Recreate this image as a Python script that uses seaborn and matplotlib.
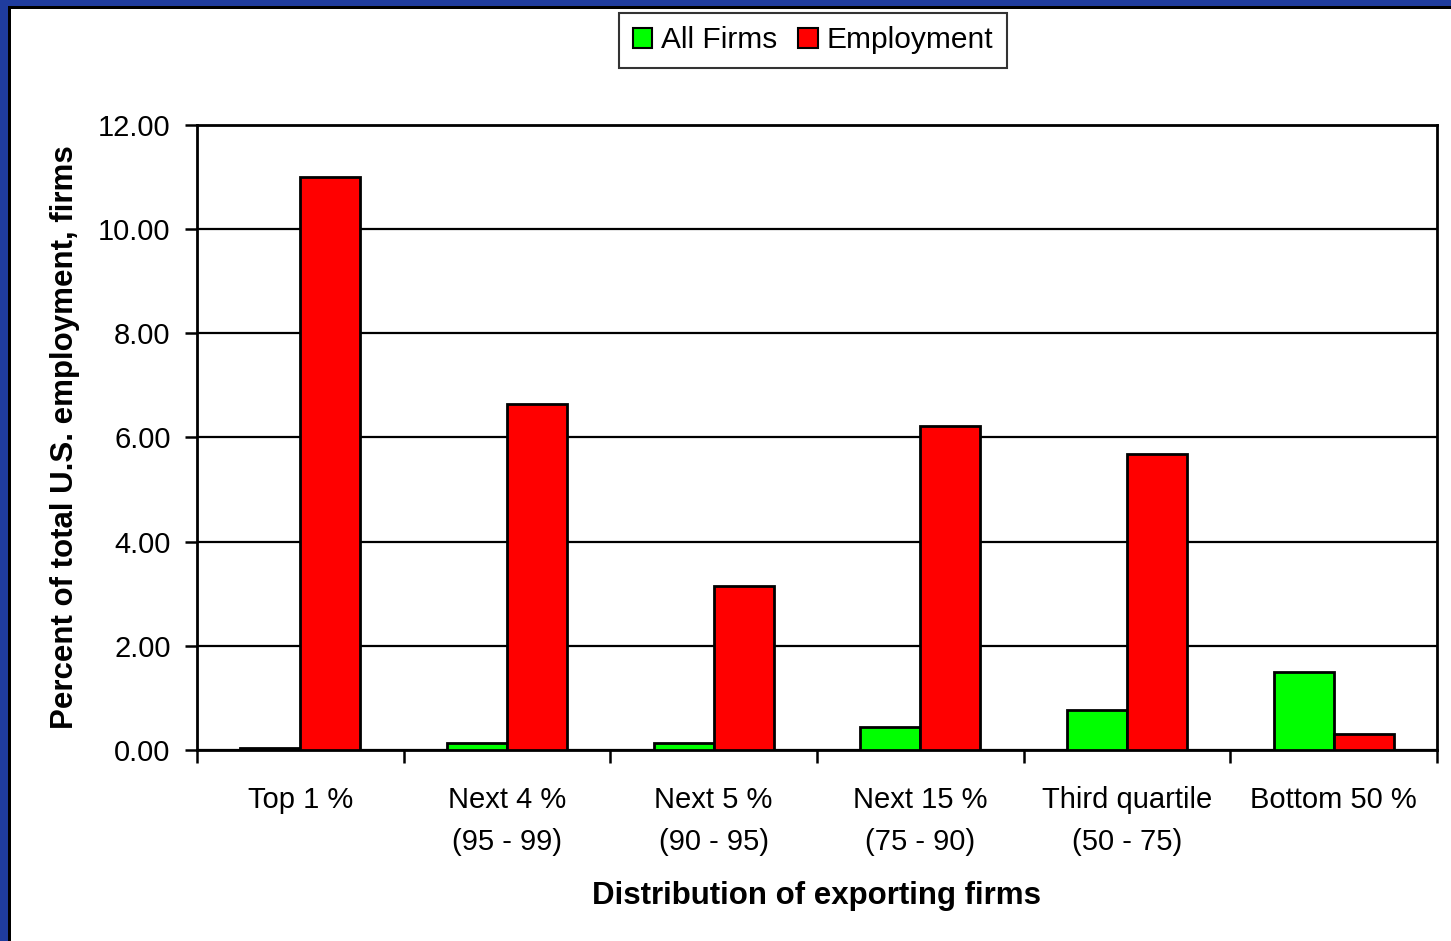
import matplotlib
matplotlib.use("Agg")
import matplotlib.pyplot as plt
import matplotlib.patches as mpatches
import seaborn as sns
import pandas as pd

categories = ["Top 1 %\n ", "Next 4 %\n(95 - 99)", "Next 5 %\n(90 - 95)",
              "Next 15 %\n(75 - 90)", "Third quartile\n(50 - 75)", "Bottom 50 %\n "]
all_firms = [0.04, 0.14, 0.14, 0.45, 0.77, 1.50]
employment = [11.00, 6.64, 3.15, 6.22, 5.68, 0.31]
series = ["All Firms", "Employment"]
colors = ["#00FF00", "#FF0000"]
yticks = [0, 2, 4, 6, 8, 10, 12]

df = pd.DataFrame({
    "category": categories * 2,
    "series": [series[0]] * len(categories) + [series[1]] * len(categories),
    "value": all_firms + employment,
})

sns.set_theme(style="ticks")
plt.rcParams["font.family"] = ["Liberation Sans", "DejaVu Sans"]
plt.rcParams.update({"text.color": "black", "axes.labelcolor": "black",
                     "xtick.color": "black", "ytick.color": "black",
                     "xtick.bottom": True, "ytick.left": True})

fig = plt.figure(figsize=(14.51, 9.41), dpi=100)
ax = fig.add_axes([0.1358, 0.203, 0.9903 - 0.1358, 0.8672 - 0.203])

sns.barplot(data=df, x="category", y="value", hue="series", order=categories,
            hue_order=series, palette=colors, width=0.58, saturation=1,
            edgecolor="black", linewidth=2, ax=ax, legend=False, zorder=3)

ax.set_ylim(0, 12)
ax.set_xlim(-0.5, len(categories) - 0.5)
ax.set_yticks(yticks)
ax.set_yticklabels([f"{v:.2f}" for v in yticks], fontsize=21)
ax.yaxis.grid(True, color="black", linewidth=1.6, zorder=0)
ax.set_axisbelow(True)

ax.set_xticks(range(len(categories)))
ax.set_xticklabels(categories, fontsize=21, linespacing=1.65)
ax.set_xticks([i - 0.5 for i in range(len(categories) + 1)], minor=True)
ax.tick_params(axis="x", which="major", length=0, pad=26)
ax.tick_params(axis="x", which="minor", bottom=True, length=9, width=1.8,
               color="black", direction="out")
ax.tick_params(axis="y", which="major", left=True, length=9, width=1.8,
               color="black", direction="out", pad=10)

for s in ax.spines.values():
    s.set_color("black")
    s.set_linewidth(2)

ax.set_xlabel("Distribution of exporting firms", fontsize=22.5, fontweight="bold", labelpad=18)
ax.set_ylabel("Percent of total U.S. employment, firms", fontsize=22.5, fontweight="bold", labelpad=13)

handles = [mpatches.Patch(facecolor=c, edgecolor="black", linewidth=1.5, label=l)
           for c, l in zip(colors, series)]
leg = fig.legend(handles=handles, loc="center", bbox_to_anchor=(0.5603, 0.957), ncol=2,
                 fontsize=21.5, frameon=True, fancybox=False, handlelength=0.65,
                 handleheight=0.65, handletextpad=0.3, columnspacing=0.7,
                 borderpad=0.45, borderaxespad=0, edgecolor="black")
leg.get_frame().set_linewidth(1.5)

# slide border along the top and left edges
fig.patches.append(mpatches.Rectangle((0, 1 - 6 / 941), 1, 6 / 941, transform=fig.transFigure,
                                      facecolor="#1F3C9E", edgecolor="none", zorder=10))
fig.patches.append(mpatches.Rectangle((0, 0), 8 / 1451, 1, transform=fig.transFigure,
                                      facecolor="#1F3C9E", edgecolor="none", zorder=10))
fig.patches.append(mpatches.Rectangle((8 / 1451, 0), 2.5 / 1451, 1 - 6 / 941, transform=fig.transFigure,
                                      facecolor="black", edgecolor="none", zorder=10))
fig.patches.append(mpatches.Rectangle((8 / 1451, 1 - 8.5 / 941), 1, 2.5 / 941, transform=fig.transFigure,
                                      facecolor="black", edgecolor="none", zorder=10))

fig.savefig("out.png", dpi=100)
